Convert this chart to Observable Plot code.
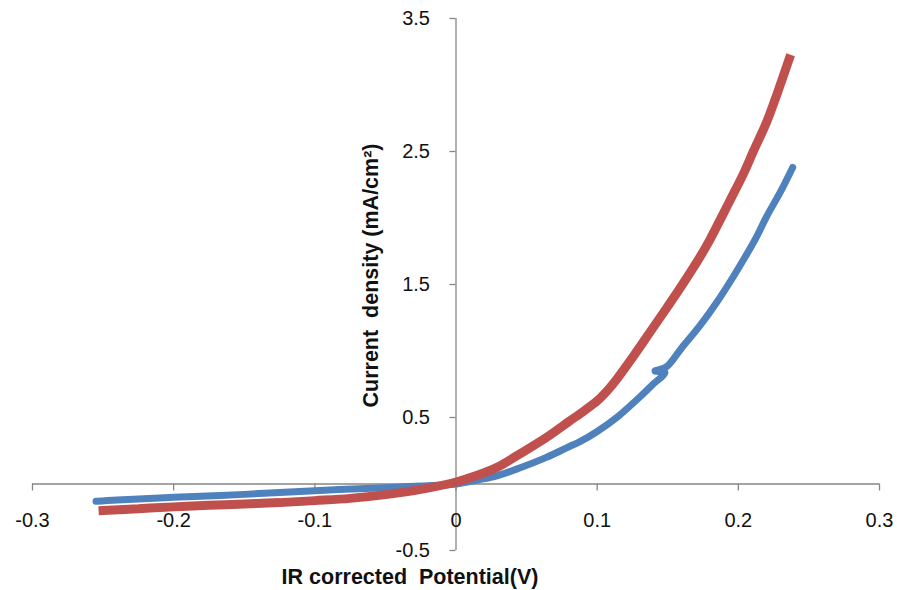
<!DOCTYPE html>
<html>
<head>
<meta charset="utf-8">
<script src="https://cdn.jsdelivr.net/npm/d3@7"></script>
<script src="https://cdn.jsdelivr.net/npm/@observablehq/plot@0.6"></script>
<style>
  html, body { margin: 0; padding: 0; background: #fff; }
  #chart svg { display: block; font-family: "Liberation Sans", Arial, sans-serif; }
</style>
</head>
<body>
<div id="chart"></div>
<script>
// Red curve (potential V, current density mA/cm2)
const redPotential = [-0.250,-0.225,-0.200,-0.175,-0.150,-0.125,-0.100,-0.075,-0.050,-0.025,0.000,0.015,0.029,0.045,0.064,0.080,0.090,0.100,0.107,0.114,0.1256,0.137,0.149,0.161,0.173,0.180,0.194,0.2035,0.211,0.220,0.228,0.236];
const redCurrent   = [-0.200,-0.186,-0.172,-0.160,-0.150,-0.140,-0.125,-0.108,-0.080,-0.040,0.015,0.065,0.125,0.225,0.350,0.470,0.545,0.625,0.700,0.790,0.960,1.135,1.320,1.510,1.710,1.840,2.130,2.330,2.510,2.720,2.950,3.195];
// Blue curve
const bluePotential = [-0.255,-0.240,-0.200,-0.150,-0.100,-0.050,-0.025,0.000,0.015,0.029,0.045,0.064,0.080,0.0878,0.100,0.115,0.130,0.139,0.148,0.141,0.149,0.160,0.1728,0.185,0.1965,0.205,0.213,0.220,0.230,0.2385];
const blueCurrent   = [-0.130,-0.120,-0.100,-0.078,-0.050,-0.028,-0.015,0.000,0.030,0.062,0.120,0.200,0.280,0.318,0.395,0.510,0.652,0.745,0.838,0.850,0.880,1.025,1.190,1.370,1.560,1.710,1.860,2.010,2.200,2.380];

const xTicks = [-0.3,-0.2,-0.1,0,0.1,0.2,0.3];
const xTickLabels = ["-0.3","-0.2","-0.1","0","0.1","0.2","0.3"];
const yTicks = [-0.5,0.5,1.5,2.5,3.5];
const yTickLabels = ["-0.5","0.5","1.5","2.5","3.5"];
const xTitle = "IR corrected  Potential(V)";
const yTitle = "Current  density (mA/cm²)";

const red = redPotential.map((x, i) => ({x, y: redCurrent[i]}));
const blue = bluePotential.map((x, i) => ({x, y: blueCurrent[i]}));
const xTickData = xTicks.map((v, i) => ({v, label: xTickLabels[i]}));
const yTickData = yTicks.map((v, i) => ({v, label: yTickLabels[i]}));

const axisColor = "#868686";
const textColor = "#111";

const chart = Plot.plot({
  width: 897,
  height: 590,
  marginLeft: 32,
  marginRight: 18,
  marginTop: 18,
  marginBottom: 40,
  style: {fontFamily: '"Liberation Sans", Arial, sans-serif', background: "#fff"},
  x: {domain: [-0.3, 0.3], axis: null},
  y: {domain: [-0.5, 3.5], axis: null},
  marks: [
    // axis lines crossing at origin
    Plot.ruleY([0], {stroke: axisColor, strokeWidth: 1.3}),
    Plot.ruleX([0], {stroke: axisColor, strokeWidth: 1.3}),
    // x tick marks (downward)
    Plot.ruleX(xTickData, {x: "v", y1: 0, y2: 0, insetBottom: -7, stroke: axisColor, strokeWidth: 1.3}),
    // y tick marks (leftward)
    Plot.ruleY(yTickData, {y: "v", x1: 0, x2: 0, insetLeft: -6, stroke: axisColor, strokeWidth: 1.3}),
    // tick labels
    Plot.text(xTickData, {x: "v", y: 0, dy: 37, text: "label", fontSize: 20, fill: textColor}),
    Plot.text(yTickData, {y: "v", x: 0, dx: -26, text: "label", textAnchor: "end", fontSize: 20, fill: textColor}),
    // data curves
    Plot.line(blue, {x: "x", y: "y", curve: "catmull-rom", stroke: "#4F81BD", strokeWidth: 7, strokeLinejoin: "round", strokeLinecap: "round"}),
    Plot.line(red, {x: "x", y: "y", curve: "catmull-rom", stroke: "#C0504D", strokeWidth: 9, strokeLinejoin: "miter", strokeLinecap: "square"}),
    // axis titles
    Plot.text([xTitle], {frameAnchor: "bottom", lineAnchor: "middle", dx: -46, dy: 27, text: d => d, fontSize: 21.5, fontWeight: "bold", fill: textColor}),
    Plot.text([yTitle], {frameAnchor: "left", textAnchor: "middle", lineAnchor: "middle", dx: 339, dy: -9, rotate: -90, text: d => d, fontSize: 21.5, fontWeight: "bold", fill: textColor})
  ]
});
document.getElementById("chart").appendChild(chart);
</script>
</body>
</html>
